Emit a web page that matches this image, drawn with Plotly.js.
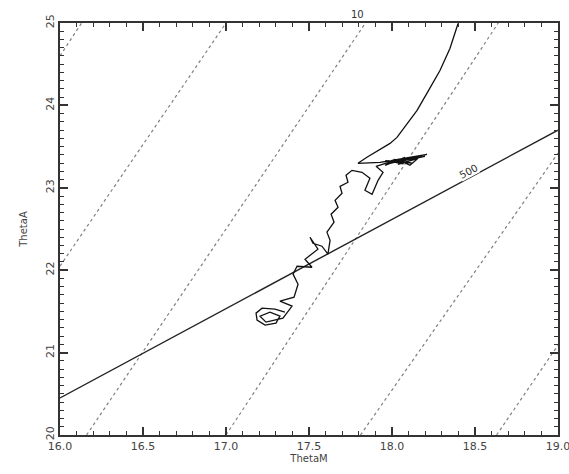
<!DOCTYPE html>
<html>
<head>
<meta charset="utf-8">
<script src="https://cdn.plot.ly/plotly-3.0.1.min.js"></script>
<style>
  html, body { margin: 0; padding: 0; background: #fff; }
  #chart { width: 569px; height: 474px; }
</style>
</head>
<body>
<div id="chart"></div>
<script>
// Dotted contour lines (endpoints)
const isoDotX = [[16.0, 16.13], [16.0, 17.0], [16.16, 17.84], [17.0, 18.64], [17.81, 19.0], [18.63, 19.0]];
const isoDotY = [[24.6, 25.0], [22.05, 25.0], [20.0, 25.0], [20.0, 25.0], [20.0, 23.42], [20.0, 21.09]];

// Solid straight contour "500"
const line500X = [16.0, 19.0];
const line500Y = [20.45, 23.70];

// Trajectory ThetaM / ThetaA
const trajX = [17.355, 17.295, 17.217, 17.181, 17.187, 17.235, 17.301, 17.325, 17.265, 17.205, 17.241, 17.343,
  17.398, 17.325, 17.410, 17.434, 17.404, 17.428, 17.518, 17.476, 17.554, 17.506, 17.524, 17.578, 17.614,
  17.627, 17.608, 17.651, 17.633, 17.675, 17.657, 17.699, 17.687, 17.735, 17.723, 17.759,
  17.819, 17.867, 17.837, 17.880, 17.916, 17.946, 17.904,
  18.018, 17.958, 18.078, 17.988, 18.120, 18.018, 18.199, 18.048, 18.108, 18.157, 18.036, 18.090, 18.211,
  18.000, 17.970, 18.060, 18.140, 17.990, 18.100, 18.180, 18.030, 17.960, 18.070, 18.010, 18.120, 17.980, 17.928,
  17.795, 17.849, 17.898, 17.946, 17.988, 18.030, 18.090, 18.151, 18.217, 18.289, 18.349, 18.398];
const trajY = [21.490, 21.527, 21.539, 21.479, 21.394, 21.333, 21.358, 21.442, 21.491, 21.442, 21.370, 21.418,
  21.564, 21.624, 21.673, 21.830, 21.952, 22.048, 22.036, 22.133, 22.255, 22.400, 22.327, 22.291, 22.194,
  22.364, 22.461, 22.582, 22.679, 22.764, 22.848, 22.933, 23.018, 23.067, 23.152, 23.212,
  23.188, 23.115, 22.970, 22.921, 23.091, 23.188, 23.261,
  23.333, 23.273, 23.370, 23.297, 23.358, 23.309, 23.382, 23.333, 23.273, 23.358, 23.285, 23.358, 23.406,
  23.333, 23.300, 23.345, 23.370, 23.320, 23.350, 23.375, 23.315, 23.330, 23.290, 23.345, 23.300, 23.325, 23.309,
  23.297, 23.370, 23.430, 23.479, 23.539, 23.612, 23.770, 23.939, 24.170, 24.424, 24.691, 24.994];

// Axis ticks
const xMajorTicks = [16.0, 16.5, 17.0, 17.5, 18.0, 18.5, 19.0];
const yMajorTicks = [20, 21, 22, 23, 24, 25];
const xMinorStep = 0.1;
const yMinorStep = 0.1;

const traces = [];
for (let i = 0; i < isoDotX.length; i++) {
  traces.push({
    x: isoDotX[i], y: isoDotY[i], type: 'scatter', mode: 'lines',
    line: {color: '#808080', width: 1.2, dash: 'dot'},
    showlegend: false, hoverinfo: 'skip'
  });
}
traces.push({
  x: line500X, y: line500Y, type: 'scatter', mode: 'lines',
  line: {color: '#222', width: 1.4}, showlegend: false, hoverinfo: 'skip'
});
traces.push({
  x: trajX, y: trajY, type: 'scatter', mode: 'lines',
  line: {color: '#111', width: 1.3}, showlegend: false
});

const fontFam = 'DejaVu Sans, Arial, sans-serif';

const layout = {
  width: 569, height: 474,
  margin: {l: 60, r: 11, t: 23, b: 39},
  paper_bgcolor: '#fff', plot_bgcolor: '#fff',
  xaxis: {
    range: [16.0, 19.0], tickmode: 'array', tickvals: xMajorTicks, ticktext: xMajorTicks.map(v => v.toFixed(1)),
    showgrid: false, zeroline: false,
    showline: true, linecolor: '#333', linewidth: 1.5, mirror: 'allticks',
    ticks: 'inside', ticklen: 8, tickwidth: 1.5, tickcolor: '#333',
    ticklabeloverflow: 'allow',
    tickfont: {family: fontFam, size: 11, color: '#444'},
    minor: {tickmode: 'linear', tick0: 16, dtick: xMinorStep, ticks: 'inside', ticklen: 4, tickwidth: 1.2, tickcolor: '#333'},
    title: {text: 'ThetaM', standoff: 2, font: {family: fontFam, size: 10, color: '#444'}}
  },
  yaxis: {
    range: [20, 25], tickmode: 'array', tickvals: yMajorTicks, tickangle: -90,
    showgrid: false, zeroline: false,
    showline: true, linecolor: '#333', linewidth: 1.5, mirror: 'allticks',
    ticks: 'inside', ticklen: 8, tickwidth: 1.5, tickcolor: '#333',
    ticklabeloverflow: 'allow',
    tickfont: {family: fontFam, size: 11, color: '#444'},
    minor: {tickmode: 'linear', tick0: 20, dtick: yMinorStep, ticks: 'inside', ticklen: 4, tickwidth: 1.2, tickcolor: '#333'},
    title: {text: 'ThetaA', standoff: 14, font: {family: fontFam, size: 10, color: '#444'}}
  },
  annotations: [
    {x: 18.46, y: 23.2, xref: 'x', yref: 'y', text: '500', showarrow: false, textangle: -28,
     font: {family: fontFam, size: 10, color: '#333'}, bgcolor: '#fff', borderpad: 0},
    {x: 17.79, y: 25.0, xref: 'x', yref: 'y', yanchor: 'bottom', yshift: 1, text: '10', showarrow: false,
     font: {family: fontFam, size: 10, color: '#333'}}
  ]
};

Plotly.newPlot('chart', traces, layout, {displayModeBar: false});
</script>
</body>
</html>
